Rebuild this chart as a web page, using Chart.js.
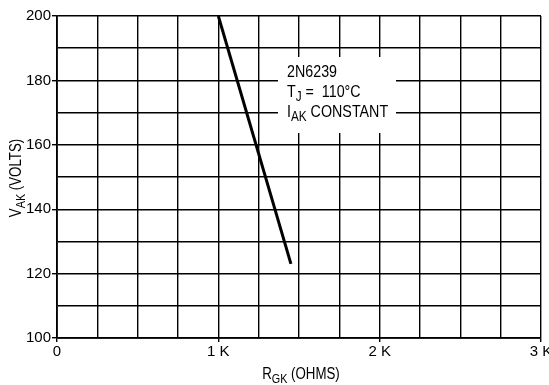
<!DOCTYPE html>
<html>
<head>
<meta charset="utf-8">
<script src="https://cdn.jsdelivr.net/npm/chart.js@4/dist/chart.umd.min.js"></script>
<style>
html,body{margin:0;padding:0;background:#fff;}
#wrap{width:549px;height:385px;position:relative;}
</style>
</head>
<body>
<div id="wrap"><canvas id="c" width="549" height="385"></canvas></div>
<script>
// Data
const rgkOhms = [1000, 1450];
const vakVolts = [200, 123];
const xTickLabels = {0: '0', 1000: '1 K', 2000: '2 K', 3000: '3 K'};
const yTickLabels = [100, 120, 140, 160, 180, 200];
const noteLines = ['2N6239', 'TJ = 110°C', 'IAK CONSTANT'];

const FONT = '"Liberation Sans", Arial, sans-serif';

const overlay = {
  id: 'overlay',
  beforeDatasetsDraw(chart) {
    const ctx = chart.ctx;
    ctx.save();
    ctx.fillStyle = '#fff';
    ctx.fillRect(278, 57, 118, 76);
    ctx.restore();
  },
  afterDraw(chart) {
    const ctx = chart.ctx;
    ctx.save();
    ctx.fillStyle = '#000';
    ctx.textBaseline = 'alphabetic';
    ctx.textAlign = 'left';
    function measure(parts, size, sx) {
      let w = 0;
      for (const [t, sub] of parts) { ctx.font = (sub ? size - 3 : size) + 'px ' + FONT; w += ctx.measureText(t).width; }
      return w * sx;
    }
    function drawSub(parts, x, y, size, sx) {
      ctx.save();
      ctx.translate(x, y);
      ctx.scale(sx, 1);
      let cx = 0;
      for (const [t, sub] of parts) {
        ctx.font = (sub ? size - 3 : size) + 'px ' + FONT;
        ctx.fillText(t, cx, sub ? 4 : 0);
        cx += ctx.measureText(t).width;
      }
      ctx.restore();
    }
    // note text
    drawSub([[noteLines[0], false]], 287, 77, 17, 0.84);
    drawSub([['T', false], ['J', true], [' =  110°C', false]], 287, 97, 17, 0.84);
    drawSub([['I', false], ['AK', true], [' CONSTANT', false]], 287, 117, 17, 0.84);
    // x title
    const xt = [['R', false], ['GK', true], [' (OHMS)', false]];
    const xw = measure(xt, 16, 0.83);
    drawSub(xt, 301 - xw / 2, 379, 16, 0.83);
    // y title
    const yt = [['V', false], ['AK', true], [' (VOLTS)', false]];
    const yw = measure(yt, 16, 0.83);
    ctx.save();
    ctx.translate(21, 178);
    ctx.rotate(-Math.PI / 2);
    drawSub(yt, -yw / 2, 0, 16, 0.83);
    ctx.restore();
    ctx.restore();
  }
};

new Chart(document.getElementById('c'), {
  type: 'scatter',
  data: {
    datasets: [{
      data: rgkOhms.map((x, i) => ({x: x, y: vakVolts[i]})),
      showLine: true,
      borderColor: '#000',
      borderWidth: 3,
      pointRadius: 0,
      fill: false
    }]
  },
  options: {
    responsive: false,
    animation: false,
    devicePixelRatio: 1,
    layout: {padding: {top: 16, right: 8, left: 0, bottom: 0}},
    plugins: {legend: {display: false}, tooltip: {enabled: false}},
    scales: {
      x: {
        type: 'linear', min: 0, max: 3000,
        ticks: {
          stepSize: 250, autoSkip: false, maxRotation: 0, padding: 1,
          color: '#000', font: {family: FONT, size: 15},
          callback: v => (xTickLabels[v] !== undefined ? xTickLabels[v] : '')
        },
        grid: {
          color: '#000', lineWidth: 1.4, tickLength: 4,
          tickColor: c => (c.tick && xTickLabels[c.tick.value] !== undefined ? '#000' : 'rgba(0,0,0,0)')
        },
        border: {color: '#000', width: 1.8},
        afterFit(s) { s.height = 47; s.paddingLeft = 0; s.paddingRight = 0; }
      },
      y: {
        type: 'linear', min: 100, max: 200,
        ticks: {
          stepSize: 10, autoSkip: false, padding: 1,
          color: '#000', font: {family: FONT, size: 15},
          callback: v => (yTickLabels.includes(v) ? String(v) : '')
        },
        grid: {
          color: '#000', lineWidth: 1.4, tickLength: 5,
          tickColor: c => (c.tick && yTickLabels.includes(c.tick.value) ? '#000' : 'rgba(0,0,0,0)')
        },
        border: {color: '#000', width: 1.8},
        afterFit(s) { s.width = 57; s.paddingTop = 0; s.paddingBottom = 0; }
      }
    }
  },
  plugins: [overlay]
});
</script>
</body>
</html>
